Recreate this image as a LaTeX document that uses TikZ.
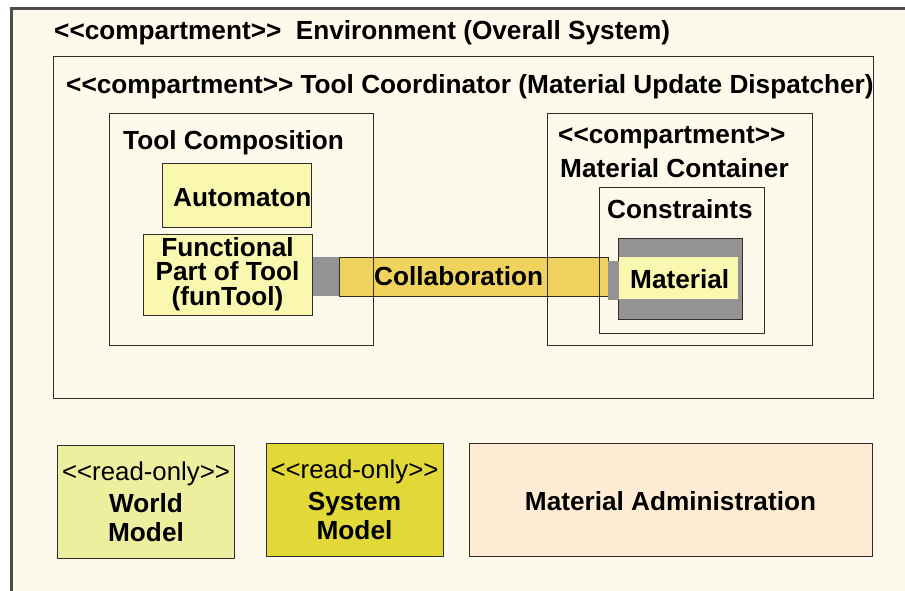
\documentclass[tikz,border=0pt]{standalone}
\usepackage{fontspec}
\setmainfont{Liberation Sans}
\newcommand\LLt{<\kern0pt<}
\newcommand\RRt{>\kern0pt>}
\definecolor{cream}{HTML}{FDF9EB}
\definecolor{paley}{HTML}{F9F7B0}
\definecolor{collab}{HTML}{F0D25E}
\definecolor{portg}{HTML}{939393}
\definecolor{worldc}{HTML}{EDEE9E}
\definecolor{systemc}{HTML}{E2D838}
\definecolor{adminc}{HTML}{FEEDD4}
\definecolor{linec}{HTML}{2E2E2E}
\tikzset{
  box/.style={draw=linec, line width=1.3pt, inner sep=0pt, anchor=north west},
  plain/.style={inner sep=0pt, anchor=north west},
  lbl/.style={font=\fontsize{26.2}{30}\selectfont\bfseries, inner sep=0pt, anchor=base west},
  clbl/.style={font=\fontsize{26.2}{30}\selectfont\bfseries, inner sep=0pt, anchor=base},
  rlbl/.style={font=\fontsize{25.8}{30}\selectfont, inner sep=0pt, anchor=base},
}
\begin{document}
\begin{tikzpicture}[x=1pt,y=-1pt]
\useasboundingbox (0,0) rectangle (905,590);
\fill[white] (0,0) rectangle (905,590);
% environment frame
\node[box, draw=linec!85, line width=2.5pt, fill=cream, minimum width=905pt, minimum height=600pt] (env) at (10,7) {};
\node[lbl] (envt) at (54,39) {\LLt compartment\RRt\ \ Environment (Overall System)};
% tool coordinator
\node[box, minimum width=820pt, minimum height=342pt] (coord) at (53,56) {};
\node[lbl] (coordt) at (66,93) {\LLt compartment\RRt\ Tool Coordinator (Material Update Dispatcher)};
% collaboration bar (under the compartment outlines)
\node[plain, fill=portg, minimum width=27pt, minimum height=39pt] (lport) at (312,257) {};
\node[plain, fill=portg, minimum width=11pt, minimum height=39pt] (rport) at (608,261) {};
\draw[draw=linec, line width=1pt, fill=collab] (lport.north east) rectangle (rport.west |- lport.south);
\node[lbl] (collabt) at (374,285) {Collaboration};
% tool composition
\node[box, minimum width=264pt, minimum height=232pt] (tcomp) at (109,113) {};
\node[lbl] (tcompt) at (123,149) {Tool Composition};
\node[box, fill=paley, minimum width=149pt, minimum height=64pt] (autom) at (162,163) {};
\node[lbl] (automt) at (173,206) {Automaton};
\node[box, fill=paley, minimum width=169pt, minimum height=81pt] (funt) at (143,234) {};
\node[font=\fontsize{26.2}{24.5}\selectfont\bfseries, inner sep=0pt, align=center, anchor=center] (funtt) at (227.5,273.8) {Functional\\Part of Tool\\(funTool)};
% material container
\node[box, minimum width=265pt, minimum height=232pt] (mcont) at (547,113) {};
\node[lbl] (mcont1) at (558,143) {\LLt compartment\RRt};
\node[lbl] (mcont2) at (560,177) {Material Container};
\node[box, minimum width=165pt, minimum height=146pt] (constr) at (599,187) {};
\node[lbl] (constrt) at (607,218) {Constraints};
\node[box, fill=portg, minimum width=124pt, minimum height=81pt] (matout) at (618,238) {};
\node[plain, fill=paley, minimum width=119pt, minimum height=42pt] (matin) at (619,257) {};
\fill[portg] (rport.north west) rectangle (rport.south east);
\node[lbl] (matt) at (630,288) {Material};
% bottom row
\node[box, fill=worldc, minimum width=177pt, minimum height=113pt] (world) at (57,445) {};
\node[rlbl] (world1) at (146,480) {\LLt read-only\RRt};
\node[clbl] (world2) at (146,512) {World};
\node[clbl] (world3) at (146,541) {Model};
\node[box, fill=systemc, minimum width=177pt, minimum height=113pt] (sysm) at (266,443) {};
\node[rlbl] (sys1) at (354.5,478) {\LLt read-only\RRt};
\node[clbl] (sys2) at (354.5,510) {System};
\node[clbl] (sys3) at (354.5,539) {Model};
\node[box, fill=adminc, minimum width=403pt, minimum height=113pt] (admin) at (469,443) {};
\node[clbl] (admint) at (670.5,510) {Material Administration};
\end{tikzpicture}
\end{document}
